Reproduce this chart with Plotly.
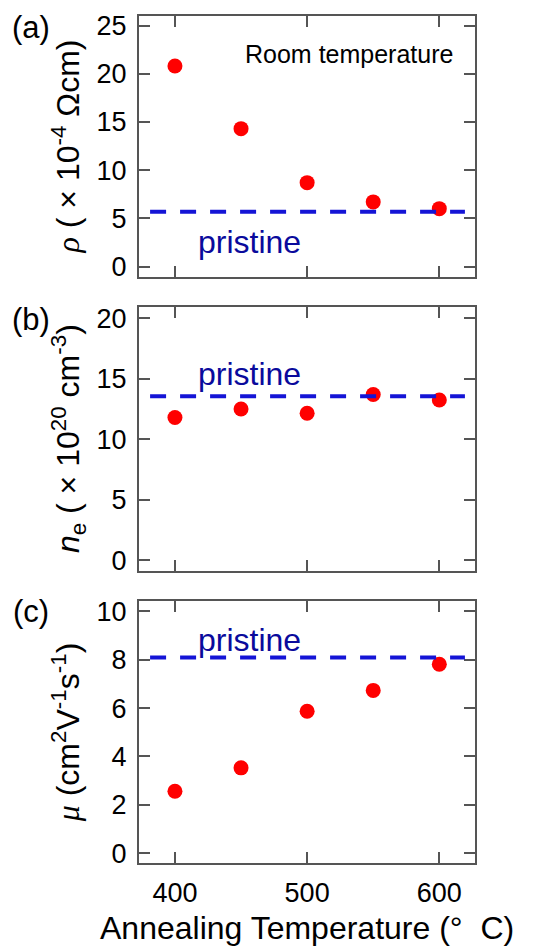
import plotly.graph_objects as go

# ---- data ----
temps = [400, 450, 500, 550, 600]
resistivity = [20.8, 14.3, 8.7, 6.7, 6.0]        # x1e-4 Ohm cm
carrier = [11.8, 12.5, 12.15, 13.7, 13.25]        # x1e20 cm^-3
mobility = [2.56, 3.53, 5.87, 6.73, 7.81]         # cm2/Vs
pristine = {"a": 5.68, "b": 13.56, "c": 8.09}

x_ticks = [400, 500, 600]
yticks_a = [0, 5, 10, 15, 20, 25]
yticks_b = [0, 5, 10, 15, 20]
yticks_c = [0, 2, 4, 6, 8, 10]

W, H = 560, 951
FONT = "Liberation Sans, Arial, sans-serif"
AX = "#555555"
RED = "#ff0000"
DASH = "#1414d6"
PRIS = "#0a0a9c"

def py(px):
    return 1 - px / H

xdom = [139 / W, 475 / W]
doms = {"a": [py(275), py(11)], "b": [py(571.7), py(305.7)], "c": [py(867.3), py(602.7)]}
ranges = {"a": [-1.1, 26.0], "b": [-0.88, 20.9], "c": [-0.41, 10.41]}
yt = {"a": yticks_a, "b": yticks_b, "c": yticks_c}
vals = {"a": resistivity, "b": carrier, "c": mobility}
names = ["a", "b", "c"]

fig = go.Figure()
for i, k in enumerate(names):
    n = "" if i == 0 else str(i + 1)
    fig.add_trace(go.Scatter(
        x=temps, y=vals[k], mode="markers",
        marker=dict(color=RED, size=15, line=dict(width=0)),
        xaxis="x" + n, yaxis="y" + n, showlegend=False))
    axcommon = dict(showline=True, linecolor=AX, linewidth=2, mirror="ticks",
                    ticks="inside", ticklen=11, tickwidth=1.5, tickcolor=AX,
                    showgrid=False, zeroline=False,
                    tickfont=dict(family=FONT, size=27, color="black"))
    fig.layout["xaxis" + n] = dict(domain=xdom, range=[372.8, 627], tickvals=x_ticks,
                                   showticklabels=(k == "c"), anchor="y" + n,
                                   ticklabelstandoff=4, **axcommon)
    fig.layout["yaxis" + n] = dict(domain=doms[k], range=ranges[k], tickvals=yt[k],
                                   anchor="x" + n, ticklabelstandoff=5, **axcommon)
    fig.add_shape(type="line", xref="x%s domain" % n, yref="y" + n,
                  x0=0.033, x1=0.970, y0=pristine[k], y1=pristine[k],
                  line=dict(color=DASH, width=4, dash="16px,14px"), layer="above")

ann = []
serif = 'font-family:"Liberation Serif", "Times New Roman", serif'
titles = {
    "a": '<span style=\'%s\'><i>ρ</i></span> ( × 10<sup>-4</sup> Ωcm)' % serif,
    "b": '<i>n</i><sub>e</sub> ( × 10<sup>20</sup> cm<sup>-3</sup>)',
    "c": '<span style=\'%s\'><i>μ</i></span> (cm<sup>2</sup>V<sup>-1</sup>s<sup>-1</sup>)' % serif,
}
tx = {"a": 66, "b": 68, "c": 66}
for k in names:
    ymid = (doms[k][0] + doms[k][1]) / 2
    ann.append(dict(text=titles[k], x=tx[k] / W, y=ymid, xref="paper", yref="paper",
                    textangle=-90, showarrow=False, xanchor="center", yanchor="middle",
                    font=dict(family=FONT, size=32, color="black")))

labels = {"a": 23, "b": 318, "c": 613}
for k, yy in labels.items():
    ann.append(dict(text="(%s)" % k, x=31 / W, y=py(yy), xref="paper", yref="paper",
                    showarrow=False, xanchor="center", yanchor="middle",
                    font=dict(family=FONT, size=31, color="black")))

ann.append(dict(text="Room temperature", x=348.5 / W, y=py(50), xref="paper", yref="paper",
                showarrow=False, xanchor="center", yanchor="middle",
                font=dict(family=FONT, size=25, color="black")))
for k, yy in {"a": 240, "b": 373, "c": 641.7}.items():
    ann.append(dict(text="pristine", x=249.5 / W, y=py(yy), xref="paper", yref="paper",
                    showarrow=False, xanchor="center", yanchor="middle",
                    font=dict(family=FONT, size=32, color=PRIS)))

ann.append(dict(text="Annealing Temperature (°  C)", x=307 / W, y=py(933), xref="paper",
                yref="paper", showarrow=False, xanchor="center", yanchor="middle",
                font=dict(family=FONT, size=32, color="black")))

fig.update_layout(width=W, height=H, margin=dict(l=0, r=0, t=0, b=0),
                  paper_bgcolor="white", plot_bgcolor="white", annotations=ann)

fig.write_html("out.html")
